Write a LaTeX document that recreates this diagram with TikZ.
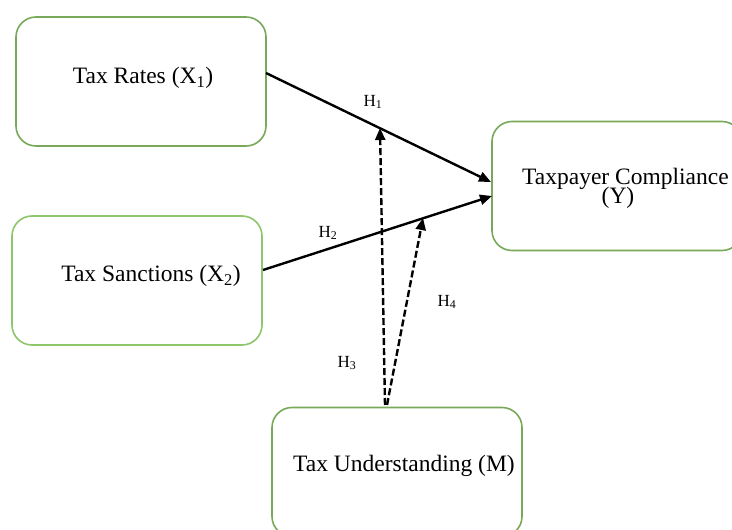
\documentclass[tikz,border=0pt]{standalone}
\usepackage{fontspec}
\setmainfont{Liberation Serif}
\usetikzlibrary{arrows.meta,calc}
\definecolor{gA}{HTML}{78A95B}
\definecolor{gB}{HTML}{8DC66B}
\tikzset{
  box/.style={draw=gA, line width=1.6pt, rounded corners=20pt, minimum width=250pt, minimum height=129pt, inner sep=0pt},
  lbl/.style={font=\fontsize{23.5}{23.5}\selectfont, inner sep=0pt},
  hl/.style={font=\fontsize{17}{17}\selectfont, inner sep=0pt},
  path/.style={line width=2.4pt, -{Triangle[length=12pt,width=10pt]}},
  mod/.style={line width=2.4pt, dash pattern=on 7pt off 3pt, -{Triangle[length=12pt,width=10pt]}}
}
\begin{document}
\begin{tikzpicture}[x=1pt,y=-1pt]
\useasboundingbox (0,0) rectangle (732,530);
\clip (0,0) rectangle (732,530);
\fill[white] (0,0) rectangle (732,530);
% boxes
\node[box] (b1) at (141,81.5) {};
\node[box, draw=gB] (b2) at (137,280.5) {};
\node[box] (b3) at (617,186) {};
\node[box] (b4) at (397,472) {};
% texts
\node[lbl] (t1) at (143,78) {Tax Rates (X\textsubscript{1})};
\node[lbl] (t2) at (151,276) {Tax Sanctions (X\textsubscript{2})};
\node[lbl, anchor=base west] (t3) at (522,184) {Taxpayer Compliance};
\node[lbl, anchor=base] (t3b) at (618,203) {(Y)};
\node[lbl] (t4) at (404,466) {Tax Understanding (M)};
% connector points
\coordinate (s1) at (266,73);
\coordinate (e1) at (491,182);
\coordinate (s2) at (263,270);
\coordinate (e2) at (492,196);
\coordinate (s3) at (385,405);
\coordinate (m1) at (380,128);
\coordinate (s4) at (387,405);
\coordinate (m2) at (423,218);
% connectors
\draw[path] (s1) -- (e1);
\draw[path] (s2) -- (e2);
\draw[mod] (s3) -- (m1);
\draw[mod] (s4) -- (m2);
% hypothesis labels
\node[hl] (h1) at (373,102) {H\textsubscript{1}};
\node[hl] (h2) at (328,233) {H\textsubscript{2}};
\node[hl] (h3) at (347,363) {H\textsubscript{3}};
\node[hl] (h4) at (447,302) {H\textsubscript{4}};
\end{tikzpicture}
\end{document}
